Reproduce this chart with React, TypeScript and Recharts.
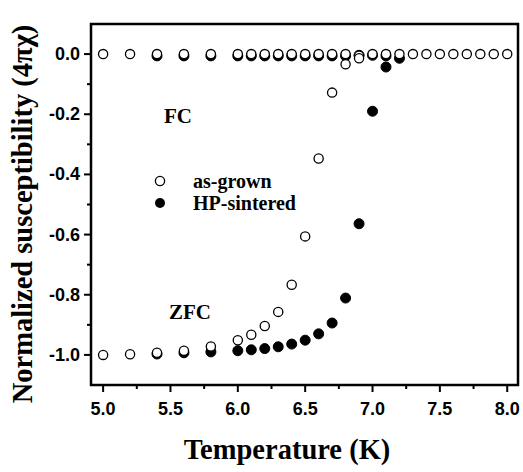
import React from 'react';
import {
  ScatterChart, Scatter, XAxis, YAxis, Customized,
} from 'recharts';

// Temperatures (K)
const tempsFC = [5.0, 5.2, 5.4, 5.6, 5.8, 6.0, 6.1, 6.2, 6.3, 6.4, 6.5, 6.6, 6.7, 6.8, 6.9, 7.0, 7.1, 7.2, 7.3, 7.4, 7.5, 7.6, 7.7, 7.8, 7.9, 8.0];
const asGrownFC = [0, 0, 0, 0, 0, 0, 0, 0, 0, 0, 0, 0, 0, 0, -0.005, 0, 0, 0, 0, 0, 0, 0, 0, 0, 0, 0];

const tempsHPFC = [5.4, 5.6, 5.8, 6.0, 6.1, 6.2, 6.3, 6.4, 6.5, 6.6, 6.7, 6.8, 6.9, 7.0, 7.1];
const hpFC = [-0.006, -0.006, -0.006, -0.006, -0.006, -0.006, -0.006, -0.006, -0.006, -0.006, -0.006, -0.006, -0.004, -0.004, -0.006];

const tempsAsZFC = [5.0, 5.2, 5.4, 5.6, 5.8, 6.0, 6.1, 6.2, 6.3, 6.4, 6.5, 6.6, 6.7, 6.8, 6.9];
const asGrownZFC = [-1.0, -0.998, -0.993, -0.986, -0.972, -0.951, -0.933, -0.904, -0.857, -0.767, -0.606, -0.347, -0.128, -0.034, -0.014];

const tempsHPZFC = [5.4, 5.6, 5.8, 6.0, 6.1, 6.2, 6.3, 6.4, 6.5, 6.6, 6.7, 6.8, 6.9, 7.0, 7.1, 7.2];
const hpZFC = [-0.997, -0.993, -0.99, -0.986, -0.983, -0.979, -0.973, -0.964, -0.951, -0.93, -0.894, -0.811, -0.564, -0.19, -0.043, -0.014];

const xMajorTicks = [5.0, 5.5, 6.0, 6.5, 7.0, 7.5, 8.0];
const xAllTicks = [5.0, 5.25, 5.5, 5.75, 6.0, 6.25, 6.5, 6.75, 7.0, 7.25, 7.5, 7.75, 8.0];
const yMajorTicks = [0.0, -0.2, -0.4, -0.6, -0.8, -1.0];
const yAllTicks = [0.0, -0.1, -0.2, -0.3, -0.4, -0.5, -0.6, -0.7, -0.8, -0.9, -1.0];

const seriesNames = ['as-grown', 'HP-sintered'];
const annotations = ['FC', 'ZFC'];

const toPts = (xs: number[], ys: number[]) => xs.map((x, i) => ({ x, y: ys[i] }));

const X_DOMAIN: [number, number] = [4.91, 8.08];
const Y_DOMAIN: [number, number] = [-1.1, 0.1];

const CHART_W = 523;
const CHART_H = 472;
const MARGIN = { top: 24, right: 5, bottom: 47, left: 31 };
const Y_AXIS_W = 60;
const X_AXIS_H = 40;
const PLOT_X = MARGIN.left + Y_AXIS_W;
const PLOT_Y = MARGIN.top;
const PLOT_W = CHART_W - MARGIN.left - MARGIN.right - Y_AXIS_W;
const PLOT_H = CHART_H - MARGIN.top - MARGIN.bottom - X_AXIS_H;

const SERIF = '"Liberation Serif", "Times New Roman", serif';
const SANS = '"Liberation Sans", Arial, sans-serif';

const isMajor = (v: number, majors: number[]) => majors.some((m) => Math.abs(m - v) < 1e-6);

const XTick = (props: any) => {
  const { x, y, payload } = props;
  const major = isMajor(payload.value, xMajorTicks);
  return (
    <g>
      <line x1={x} x2={x} y1={y} y2={y + (major ? 7 : 4)} stroke="#000" strokeWidth={2} />
      {major && (
        <text x={x} y={y + 30} textAnchor="middle" fontFamily={SANS} fontWeight="bold" fontSize={18} fill="#000">
          {payload.value.toFixed(1)}
        </text>
      )}
    </g>
  );
};

const YTick = (props: any) => {
  const { x, y, payload } = props;
  const major = isMajor(payload.value, yMajorTicks);
  return (
    <g>
      <line x1={x} x2={x - (major ? 7 : 4)} y1={y} y2={y} stroke="#000" strokeWidth={2} />
      {major && (
        <text x={x - 11} y={y + 6} textAnchor="end" fontFamily={SANS} fontWeight="bold" fontSize={18} fill="#000">
          {payload.value.toFixed(1)}
        </text>
      )}
    </g>
  );
};

const OpenCircle = (props: any) => {
  const { cx, cy } = props;
  return <circle cx={cx} cy={cy} r={4.6} fill="#fff" stroke="#000" strokeWidth={1.3} />;
};
const FilledCircle = (props: any) => {
  const { cx, cy } = props;
  return <circle cx={cx} cy={cy} r={5} fill="#000" stroke="#000" strokeWidth={1} />;
};

const Decorations = () => (
  <g>
    <rect x={PLOT_X} y={PLOT_Y} width={PLOT_W} height={PLOT_H} fill="none" stroke="#000" strokeWidth={2.5} />
    <g fontFamily={SERIF} fontWeight="bold" fill="#000">
      <text x={178} y={123} fontSize={21} textAnchor="middle">{annotations[0]}</text>
      <text x={190} y={319} fontSize={21} textAnchor="middle">{annotations[1]}</text>
      <circle cx={160} cy={181} r={4.6} fill="#fff" stroke="#000" strokeWidth={1.3} />
      <text x={193} y={188} fontSize={20}>{seriesNames[0]}</text>
      <circle cx={160} cy={203} r={5} fill="#000" />
      <text x={193} y={210} fontSize={20}>{seriesNames[1]}</text>
    </g>
  </g>
);

const frameLine = { stroke: '#000', strokeWidth: 2 };

export default function App() {
  return (
    <div style={{ position: 'absolute', left: 0, top: 0, width: CHART_W, height: CHART_H, background: '#fff' }}>
      <ScatterChart width={CHART_W} height={CHART_H} margin={MARGIN}>
        <XAxis
          xAxisId="main"
          type="number"
          dataKey="x"
          domain={X_DOMAIN}
          ticks={xAllTicks}
          interval={0}
          tick={<XTick />}
          tickLine={false}
          tickSize={0}
          tickMargin={0}
          axisLine={frameLine}
          height={X_AXIS_H}
          allowDataOverflow
        />
        <YAxis
          yAxisId="main"
          type="number"
          dataKey="y"
          domain={Y_DOMAIN}
          ticks={yAllTicks}
          interval={0}
          tick={<YTick />}
          tickLine={false}
          tickSize={0}
          tickMargin={0}
          axisLine={frameLine}
          width={Y_AXIS_W}
          allowDataOverflow
        />
        <Scatter xAxisId="main" yAxisId="main" name="hpFC" data={toPts(tempsHPFC, hpFC)} shape={<FilledCircle />} isAnimationActive={false} />
        <Scatter xAxisId="main" yAxisId="main" name="hpZFC" data={toPts(tempsHPZFC, hpZFC)} shape={<FilledCircle />} isAnimationActive={false} />
        <Scatter xAxisId="main" yAxisId="main" name="asFC" data={toPts(tempsFC, asGrownFC)} shape={<OpenCircle />} isAnimationActive={false} />
        <Scatter xAxisId="main" yAxisId="main" name="asZFC" data={toPts(tempsAsZFC, asGrownZFC)} shape={<OpenCircle />} isAnimationActive={false} />
        <Customized component={Decorations} />
        <text x={22} y={214} transform="rotate(-90 22 214)" textAnchor="middle" dominantBaseline="central" fontFamily={SERIF} fontWeight="bold" fontSize={28.5} fill="#000">
          Normalized susceptibility (4πχ)
        </text>
        <text x={287} y={459} textAnchor="middle" fontFamily={SERIF} fontWeight="bold" fontSize={28.5} fill="#000">
          Temperature (K)
        </text>
      </ScatterChart>
    </div>
  );
}
